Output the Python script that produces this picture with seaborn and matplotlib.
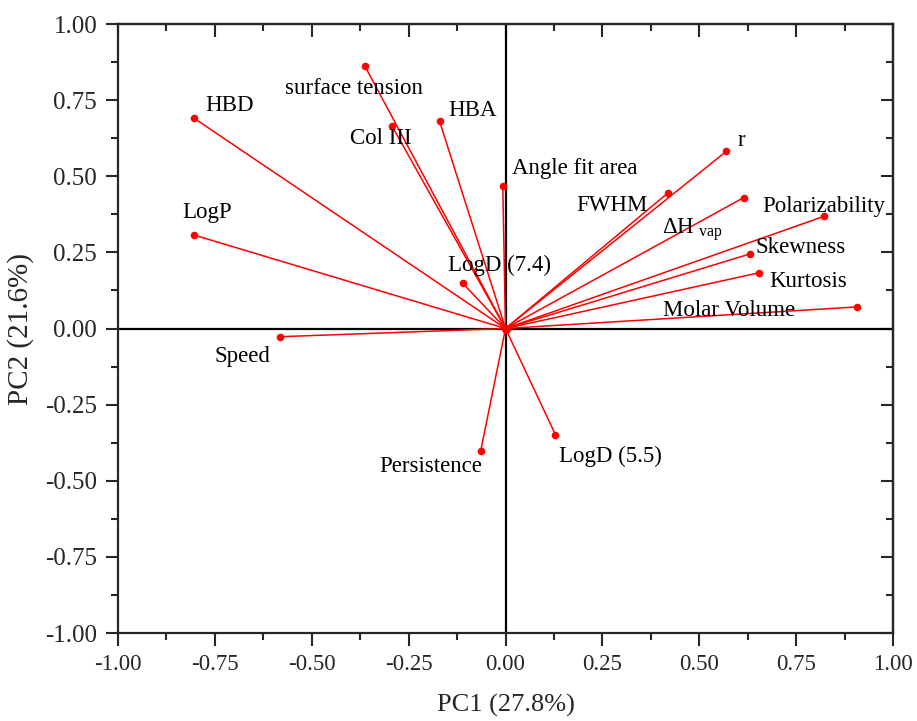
import numpy as np
import pandas as pd
import matplotlib
matplotlib.use("Agg")
import matplotlib.pyplot as plt
import seaborn as sns
from matplotlib.ticker import MultipleLocator, FormatStrFormatter

# PCA loadings
variables = ['HBD', 'surface tension', 'HBA', 'Col III', 'Angle fit area', 'r',
             'FWHM', 'dHvap', 'Polarizability', 'Skewness', 'Kurtosis',
             'Molar Volume', 'LogP', 'LogD (7.4)', 'Speed', 'Persistence', 'LogD (5.5)']
pc1 = [-0.803, -0.363, -0.170, -0.293, -0.007, 0.570,
       0.419, 0.615, 0.821, 0.631, 0.654,
       0.908, -0.804, -0.110, -0.582, -0.064, 0.129]
pc2 = [0.690, 0.862, 0.680, 0.665, 0.469, 0.582,
       0.445, 0.430, 0.368, 0.245, 0.183,
       0.071, 0.307, 0.148, -0.027, -0.402, -0.349]
display_names = {'dHvap': r'$\mathregular{\Delta H}_{\ \mathregular{vap}}$'}

# label offsets in pixels (left edge / vertical centre relative to the point)
label_offsets = {
    'HBD': (11, 13), 'surface tension': (-80, -22), 'HBA': (9, 11),
    'Col III': (-42, -12), 'Angle fit area': (9, 17), 'r': (11, 11),
    'FWHM': (-92, -13), 'dHvap': (-82, -33), 'Polarizability': (-61, 10),
    'Skewness': (5, 6), 'Kurtosis': (10, -9), 'Molar Volume': (-194, -4),
    'LogP': (-12, 23), 'LogD (7.4)': (-15, 18), 'Speed': (-65, -20),
    'Persistence': (-101, -16), 'LogD (5.5)': (4, -22),
}

df = pd.DataFrame({'var': variables, 'PC1': pc1, 'PC2': pc2})

sns.set_theme(style='ticks')
plt.rcParams['font.family'] = ['Liberation Serif', 'DejaVu Serif']
plt.rcParams['mathtext.fontset'] = 'custom'
plt.rcParams['mathtext.rm'] = 'Liberation Serif'

fig = plt.figure(figsize=(9.17, 7.21), dpi=100)
ax = fig.add_axes([118 / 917, 1 - 633 / 721, (893 - 118) / 917, (633 - 24) / 721])

# zero lines
ax.axhline(0, color='black', lw=1.6, zorder=1)
ax.axvline(0, color='black', lw=1.6, zorder=1)

# loading vectors
for _, row in df.iterrows():
    ax.plot([0, row['PC1']], [0, row['PC2']], color='#ff0000', lw=1.1, zorder=2)
sns.scatterplot(data=df, x='PC1', y='PC2', color='#ff0000', s=30,
                edgecolor='#ff0000', linewidth=0, ax=ax, zorder=3)
ax.scatter([0], [0], color='#ff0000', s=30, zorder=3)

for _, row in df.iterrows():
    dx, dy = label_offsets[row['var']]
    ax.annotate(display_names.get(row['var'], row['var']), (row['PC1'], row['PC2']),
                xytext=(dx, dy), textcoords='offset pixels',
                ha='left', va='center', fontsize=16.5, color='black')

ax.set_xlim(-1, 1)
ax.set_ylim(-1, 1)
ax.xaxis.set_major_locator(MultipleLocator(0.25))
ax.yaxis.set_major_locator(MultipleLocator(0.25))
ax.xaxis.set_minor_locator(MultipleLocator(0.125))
ax.yaxis.set_minor_locator(MultipleLocator(0.125))
ax.xaxis.set_major_formatter(FormatStrFormatter('%.2f'))
ax.yaxis.set_major_formatter(FormatStrFormatter('%.2f'))

ax.tick_params(axis='both', which='major', direction='out', length=9, width=1.5, pad=6)
ax.tick_params(axis='x', which='major', labelsize=16.5)
ax.tick_params(axis='y', which='major', labelsize=18)
ax.tick_params(axis='both', which='minor', direction='out', length=5, width=1.5)
for sp in ax.spines.values():
    sp.set_linewidth(1.6)
    sp.set_visible(True)

# inward ticks on top and right
axt = ax.secondary_xaxis('top')
axt.xaxis.set_major_locator(MultipleLocator(0.25))
axt.xaxis.set_minor_locator(MultipleLocator(0.125))
axt.tick_params(which='major', direction='in', length=9, width=1.5, labeltop=False)
axt.tick_params(which='minor', direction='in', length=5, width=1.5)
axr = ax.secondary_yaxis('right')
axr.yaxis.set_major_locator(MultipleLocator(0.25))
axr.yaxis.set_minor_locator(MultipleLocator(0.125))
axr.tick_params(which='major', direction='in', length=9, width=1.5, labelright=False)
axr.tick_params(which='minor', direction='in', length=5, width=1.5)
axt.spines['top'].set_linewidth(1.6)
axr.spines['right'].set_linewidth(1.6)

ax.set_xlabel('PC1 (27.8%)', fontsize=19, labelpad=14)
ax.set_ylabel('PC2 (21.6%)', fontsize=21, labelpad=8)

fig.savefig('out.png', dpi=100)
